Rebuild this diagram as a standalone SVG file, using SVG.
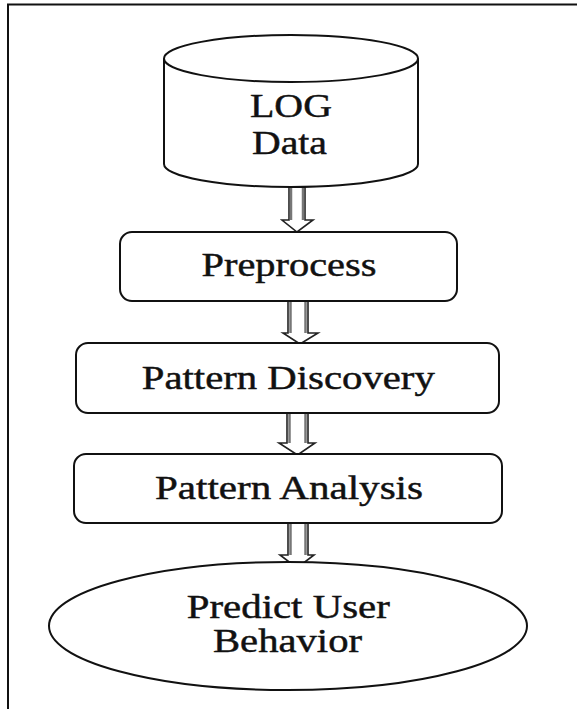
<svg xmlns="http://www.w3.org/2000/svg" width="577" height="709" viewBox="0 0 577 709">
<style>
.shape{fill:#fff;stroke:#111;stroke-width:2}
.lbl{font-family:"Liberation Serif","Times New Roman","DejaVu Serif",serif;font-size:33px;fill:#111;text-anchor:middle;stroke:#111;stroke-width:0.45}
.arr{fill:#fff;stroke:#222;stroke-width:1.6;stroke-linejoin:miter}
.shade{stroke:#777;stroke-width:2.5;fill:none}
</style>
<rect width="577" height="709" fill="#fff"/>
<rect x="8" y="4.5" width="600" height="720" fill="none" stroke="#111" stroke-width="2"/>
<g id="connectors">
  <g id="arrow1">
    <polygon class="arr" points="289,187 305,187 305,220 313,220 297,232 282,220 289,220"/>
    <line class="shade" x1="291" y1="188" x2="291" y2="220"/>
    <line class="shade" x1="303" y1="188" x2="303" y2="220"/>
  </g>
  <g id="arrow2">
    <polygon class="arr" points="288,301 308,301 308,333 318,333 300,344 283,333 288,333"/>
    <line class="shade" x1="290.5" y1="302" x2="290.5" y2="333"/>
    <line class="shade" x1="305.5" y1="302" x2="305.5" y2="333"/>
  </g>
  <g id="arrow3">
    <polygon class="arr" points="287,413 308,413 308,443 315,443 297.5,455 279,443 287,443"/>
    <line class="shade" x1="289.5" y1="414" x2="289.5" y2="443"/>
    <line class="shade" x1="305.5" y1="414" x2="305.5" y2="443"/>
  </g>
  <g id="arrow4">
    <polygon class="arr" points="288,523 308,523 308,555 314,555 297,568 280,555 288,555"/>
    <line class="shade" x1="290.5" y1="524" x2="290.5" y2="555"/>
    <line class="shade" x1="305.5" y1="524" x2="305.5" y2="555"/>
  </g>
</g>
<g id="log-data">
  <path class="shape" d="M164,58.5 L164,164 A127,23 0 0 0 418,164 L418,58.5"/>
  <ellipse class="shape" cx="291" cy="58.5" rx="127" ry="23.5"/>
  <text class="lbl" x="291" y="117" textLength="82" lengthAdjust="spacingAndGlyphs">LOG</text>
  <text class="lbl" x="289.5" y="154" textLength="75" lengthAdjust="spacingAndGlyphs">Data</text>
</g>
<g id="preprocess">
  <rect class="shape" x="120" y="232" width="337" height="69" rx="12" ry="12"/>
  <text class="lbl" x="289" y="276" textLength="175" lengthAdjust="spacingAndGlyphs">Preprocess</text>
</g>
<g id="pattern-discovery">
  <rect class="shape" x="76" y="343" width="423" height="70" rx="12" ry="12"/>
  <text class="lbl" x="288.3" y="389" textLength="293" lengthAdjust="spacingAndGlyphs">Pattern Discovery</text>
</g>
<g id="pattern-analysis">
  <rect class="shape" x="74" y="454" width="428" height="69" rx="12" ry="12"/>
  <text class="lbl" x="289" y="499" textLength="268" lengthAdjust="spacingAndGlyphs">Pattern Analysis</text>
</g>
<g id="predict-user-behavior">
  <ellipse class="shape" cx="288" cy="626" rx="239" ry="64"/>
  <text class="lbl" x="288.3" y="618" textLength="203" lengthAdjust="spacingAndGlyphs">Predict User</text>
  <text class="lbl" x="287.5" y="651.5" textLength="149" lengthAdjust="spacingAndGlyphs">Behavior</text>
</g>
</svg>
